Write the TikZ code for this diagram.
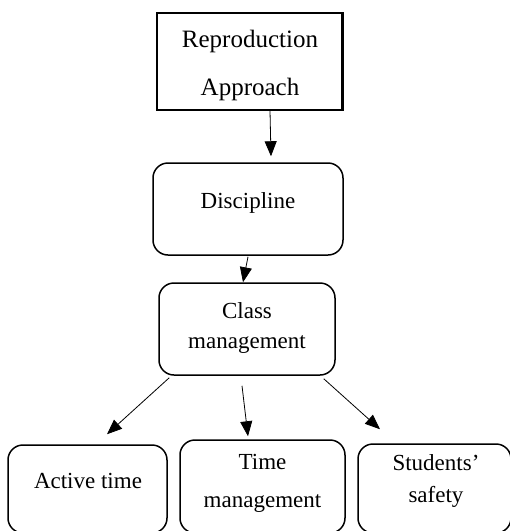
\documentclass[tikz,border=0pt]{standalone}
\usepackage{fontspec}
\setmainfont{Liberation Serif}
\usetikzlibrary{arrows.meta}
\begin{document}
\begin{tikzpicture}[x=1pt,y=-1pt,
  box/.style={draw, line width=1.5pt, rounded corners=15pt, inner sep=0pt, anchor=center},
  sqbox/.style={draw, line width=1.3pt, inner sep=0pt, anchor=center},
  txt/.style={anchor=base, inner sep=0pt, font=\fontsize{23}{28}\selectfont},
  bigtxt/.style={anchor=base, inner sep=0pt, font=\fontsize{25}{30}\selectfont},
  arr/.style={line width=0.8pt, -{Triangle[length=15pt,width=12pt]}}]
\useasboundingbox (0,0) rectangle (510,531);
\clip (0,0) rectangle (510,531);
% boxes
\node[sqbox, minimum width=186pt, minimum height=97pt] (top) at (250,61.5) {};
\draw[line width=1.2pt] ([xshift=-1.8pt,yshift=-1pt]top.north east) -- ([xshift=-1.8pt,yshift=1pt]top.south east);
\node[box, minimum width=190pt, minimum height=92pt] (disc) at (248,209) {};
\node[box, minimum width=176pt, minimum height=92pt] (cls) at (247,329) {};
\node[box, minimum width=159pt, minimum height=88pt] (act) at (87.5,489) {};
\node[box, minimum width=165pt, minimum height=93pt] (tm) at (262.5,486.5) {};
\node[box, minimum width=153pt, minimum height=89pt] (ss) at (434.5,488.5) {};
% texts
\node[bigtxt] (t1) at (250,47) {Reproduction};
\node[bigtxt] (t2) at (250,95) {Approach};
\node[txt] (t3) at (248,208) {Discipline};
\node[txt] (t4) at (247,318) {Class};
\node[txt] (t5) at (247,348) {management};
\node[txt] (t6) at (88,488) {Active time};
\node[txt] (t7) at (262.5,469) {Time};
\node[txt] (t8) at (262.5,507) {management};
\node[txt] (t9) at (436,470) {Students’};
\node[txt] (t10) at (436,502) {safety};
% arrows
\draw[arr] ([xshift=20pt]top.south) -- ([xshift=23pt,yshift=6pt]disc.north);
\draw[arr] ([yshift=-1pt]disc.south) -- ([xshift=-4pt]cls.north);
\draw[arr] ([xshift=11pt,yshift=-2pt]cls.south west) -- ([xshift=19.5pt,yshift=10pt]act.north);
\draw[arr] ([xshift=-5pt,yshift=-10pt]cls.south) -- ([xshift=-14.5pt,yshift=3pt]tm.north);
\draw[arr] ([xshift=-12pt,yshift=-3pt]cls.south east) -- ([xshift=-54.5pt,yshift=14pt]ss.north);
\end{tikzpicture}
\end{document}
